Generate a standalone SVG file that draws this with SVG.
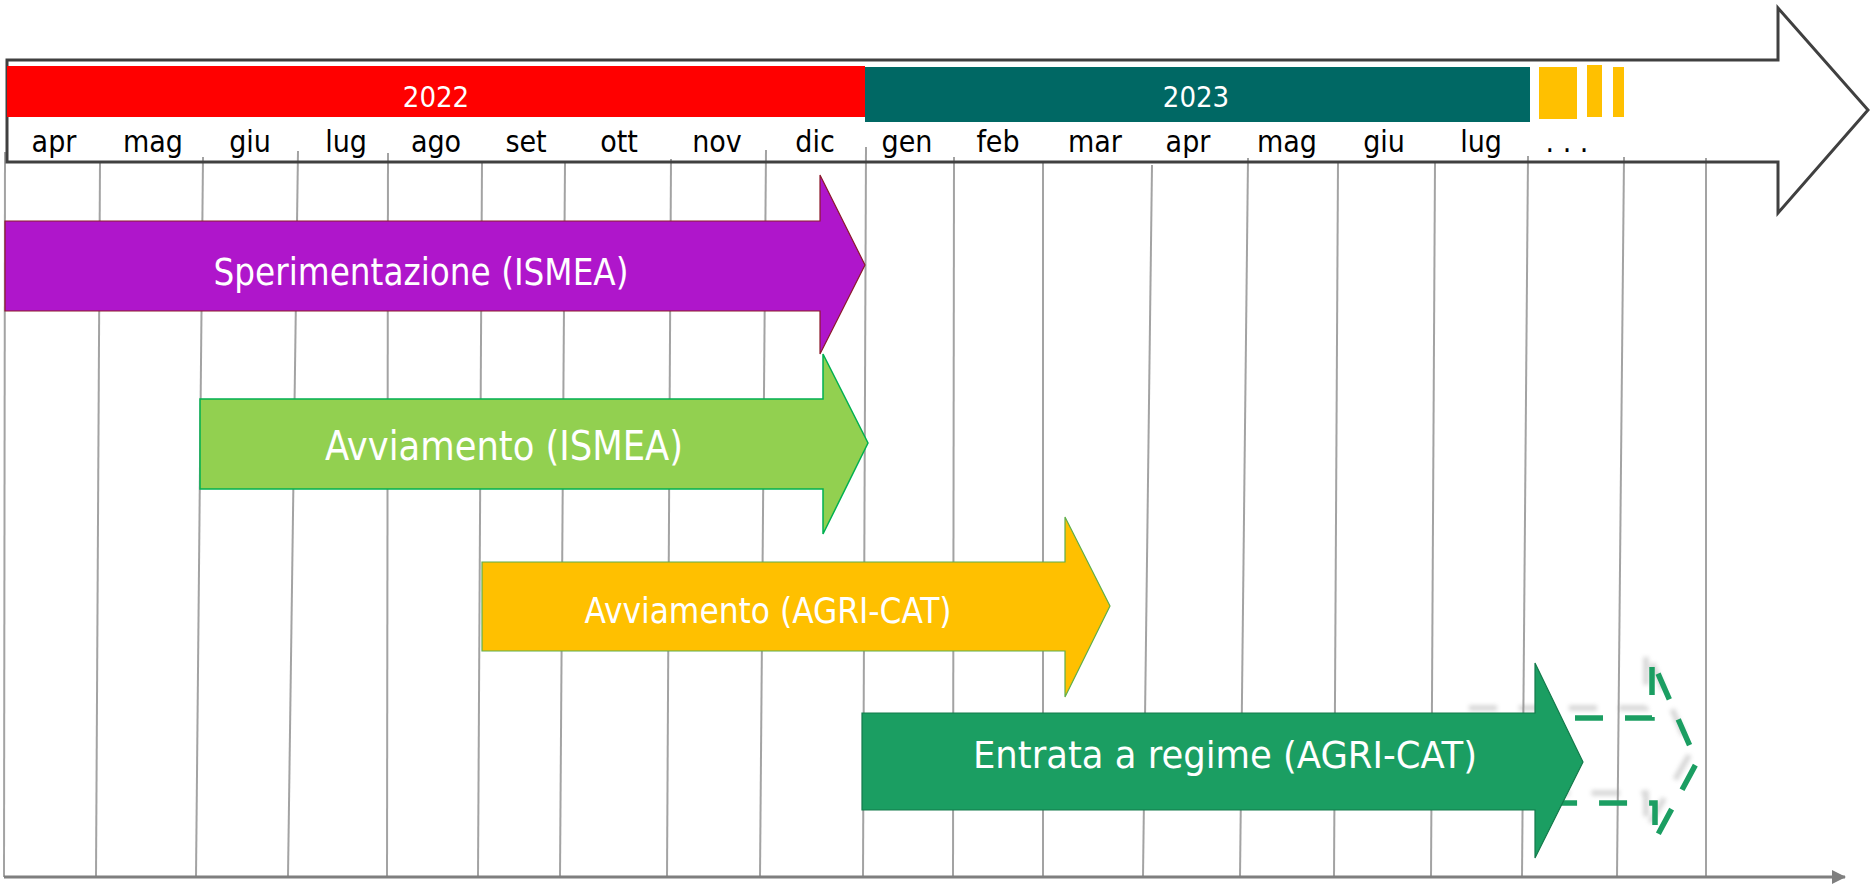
<svg xmlns="http://www.w3.org/2000/svg" width="1870" height="884" viewBox="0 0 1870 884">
<defs>
<style>
.grid{stroke:#a3a3a3;stroke-width:2;fill:none}
.mon{font-family:"DejaVu Sans Condensed","DejaVu Sans",sans-serif;font-size:30px;fill:#000;text-anchor:middle}
.yr{font-family:"DejaVu Sans Condensed","DejaVu Sans",sans-serif;font-size:29px;fill:#fff;text-anchor:middle}
.lbl{font-family:"DejaVu Sans Condensed","DejaVu Sans",sans-serif;fill:#fff;text-anchor:middle}
.dash{fill:none;stroke:#1b9e62;stroke-width:5.5;stroke-dasharray:28 22}
</style>
<filter id="blur" x="-10%" y="-20%" width="120%" height="140%"><feGaussianBlur stdDeviation="2.2"/></filter>
<marker id="axhead" markerWidth="14" markerHeight="14" refX="13" refY="7" orient="auto" markerUnits="userSpaceOnUse"><path d="M0,0 L14,7 L0,14 Z" fill="#7f7f7f"/></marker>
</defs>
<rect width="1870" height="884" fill="#fff"/>

<g id="grid">
<line class="grid" x1="5" y1="152" x2="4" y2="877"/>
<line class="grid" x1="100" y1="163" x2="96" y2="877"/>
<line class="grid" x1="203" y1="157" x2="196" y2="877"/>
<line class="grid" x1="298" y1="151" x2="288" y2="877"/>
<line class="grid" x1="388" y1="153" x2="387" y2="877"/>
<line class="grid" x1="482" y1="162" x2="478" y2="877"/>
<line class="grid" x1="565" y1="162" x2="560" y2="877"/>
<line class="grid" x1="671" y1="159" x2="667" y2="877"/>
<line class="grid" x1="766" y1="150" x2="760" y2="877"/>
<line class="grid" x1="866" y1="147" x2="863" y2="877"/>
<line class="grid" x1="954" y1="157" x2="953" y2="877"/>
<line class="grid" x1="1043" y1="162" x2="1043" y2="877"/>
<line class="grid" x1="1152" y1="165" x2="1143" y2="877"/>
<line class="grid" x1="1248" y1="158" x2="1240" y2="877"/>
<line class="grid" x1="1338" y1="162" x2="1334" y2="877"/>
<line class="grid" x1="1435" y1="162" x2="1431" y2="877"/>
<line class="grid" x1="1528" y1="156" x2="1522" y2="877"/>
<line class="grid" x1="1624" y1="157" x2="1617" y2="877"/>
<line class="grid" x1="1706" y1="158" x2="1706" y2="877"/>
</g>

<g id="axis">
<line x1="4" y1="877" x2="1845" y2="877" stroke="#7f7f7f" stroke-width="3" marker-end="url(#axhead)"/>
</g>

<g id="timeline">
<path d="M7 60 H1778 V8 L1868 110 L1778 213 V162 H7 Z" fill="none" stroke="#404040" stroke-width="3" stroke-linejoin="miter"/>
<rect x="7" y="66" width="858" height="51" fill="#ff0000"/>
<rect x="865" y="67" width="665" height="55" fill="#006864"/>
<rect x="1539" y="67" width="38" height="52" fill="#ffc000"/>
<rect x="1587" y="65" width="15" height="52" fill="#ffc000"/>
<rect x="1613" y="67" width="11" height="50" fill="#ffc000"/>
<text class="yr" x="436" y="107">2022</text>
<text class="yr" x="1196" y="107">2023</text>
<g class="mon">
<text x="54" y="152">apr</text>
<text x="153" y="152">mag</text>
<text x="250" y="152">giu</text>
<text x="346" y="152">lug</text>
<text x="436" y="152">ago</text>
<text x="526" y="152">set</text>
<text x="619" y="152">ott</text>
<text x="717" y="152">nov</text>
<text x="815" y="152">dic</text>
<text x="907" y="152">gen</text>
<text x="998" y="152">feb</text>
<text x="1095" y="152">mar</text>
<text x="1188" y="152">apr</text>
<text x="1287" y="152">mag</text>
<text x="1384" y="152">giu</text>
<text x="1481" y="152">lug</text>
<text x="1567" y="152">. . .</text>
</g>
</g>

<g id="sperimentazione">
<path d="M5 221 H820 V175 L865 265 L820 354 V311 H5 Z" fill="#af16cb" stroke="#8b1a2a" stroke-width="1.2"/>
<text class="lbl" x="421" y="285" font-size="37" textLength="415" lengthAdjust="spacingAndGlyphs">Sperimentazione (ISMEA)</text>
</g>

<g id="avviamento-ismea">
<path d="M200 399 H823 V354 L868 443 L823 534 V489 H200 Z" fill="#92d050" stroke="#00b050" stroke-width="1.5"/>
<text class="lbl" x="504" y="460" font-size="40" textLength="358" lengthAdjust="spacingAndGlyphs">Avviamento (ISMEA)</text>
</g>

<g id="avviamento-agricat">
<path d="M482 562 H1065 V517 L1110 606 L1065 697 V651 H482 Z" fill="#ffc000" stroke="#5fae4a" stroke-width="1.2"/>
<text class="lbl" x="768" y="623" font-size="36" textLength="367" lengthAdjust="spacingAndGlyphs">Avviamento (AGRI-CAT)</text>
</g>

<g id="entrata-futuro">
<path d="M1469 708 H1646 V650 L1691 752 L1646 830 V793 H1469" class="dash" style="stroke:#8c8c8c" opacity="0.35" filter="url(#blur)"/>
<path d="M1475 718 H1652 V660 L1697 762 L1655 840 V803 H1475" class="dash"/>
</g>

<g id="entrata">
<path d="M862 713 H1535 V663 L1583 762 L1535 858 V810 H862 Z" fill="#1b9e62" stroke="#137a4b" stroke-width="1.2"/>
<text class="lbl" x="1225" y="768" font-size="38" textLength="504" lengthAdjust="spacingAndGlyphs">Entrata a regime (AGRI-CAT)</text>
</g>
</svg>
